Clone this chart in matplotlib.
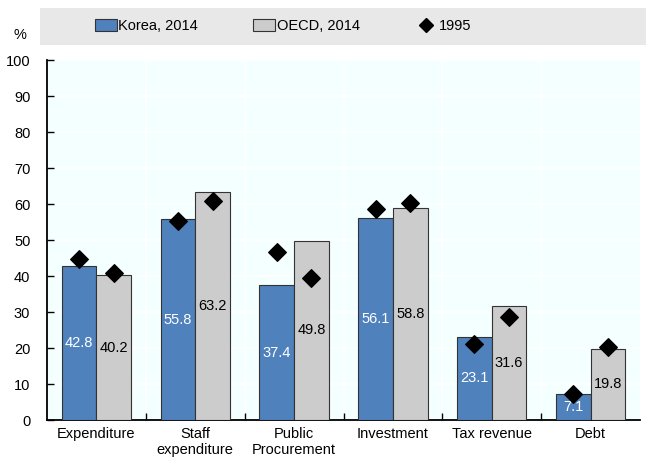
import matplotlib
matplotlib.use("Agg")
import matplotlib.pyplot as plt
import numpy as np
from matplotlib.patches import Rectangle
from matplotlib.lines import Line2D
from matplotlib.font_manager import fontManager

names = {f.name for f in fontManager.ttflist}
fam = ['Liberation Sans Narrow', 'Liberation Sans', 'DejaVu Sans']
plt.rcParams['font.family'] = [f for f in fam if f in names] or ['DejaVu Sans']

categories = ["Expenditure", "Staff\nexpenditure", "Public\nProcurement", "Investment", "Tax revenue", "Debt"]
korea_2014 = [42.8, 55.8, 37.4, 56.1, 23.1, 7.1]
oecd_2014 = [40.2, 63.2, 49.8, 58.8, 31.6, 19.8]
korea_1995 = [44.6, 55.2, 46.8, 58.6, 21.2, 7.2]
oecd_1995 = [40.8, 60.9, 39.4, 60.2, 28.6, 20.2]
yticks = list(range(0, 101, 10))

fig = plt.figure(figsize=(6.46, 4.66), dpi=100)
ax = fig.add_axes([47/646, 1-420/466, 593/646, 360/466])
ax.set_facecolor('#F4FFFF')

x = np.arange(len(categories))
w = 0.35
ax.bar(x - w/2, korea_2014, w, color='#4F81BD', edgecolor='#333333', linewidth=0.8, zorder=3)
ax.bar(x + w/2, oecd_2014, w, color='#CCCCCC', edgecolor='#333333', linewidth=0.8, zorder=3)
ax.scatter(x - w/2, korea_1995, marker='D', s=80, color='black', zorder=5)
ax.scatter(x + w/2, oecd_1995, marker='D', s=80, color='black', zorder=5)

for xi, v in zip(x - w/2, korea_2014):
    ax.text(xi, v/2, f"{v:.1f}", ha='center', va='center', color='white', fontsize=10.5, zorder=4)
for xi, v in zip(x + w/2, oecd_2014):
    ax.text(xi, v/2, f"{v:.1f}", ha='center', va='center', color='black', fontsize=10.5, zorder=4)

ax.set_xlim(-0.5, len(categories) - 0.5)
ax.set_ylim(0, 100)
ax.set_yticks(yticks)
ax.set_yticklabels([str(t) for t in yticks], fontsize=10.5)
ax.set_xticks(x)
ax.set_xticklabels(categories, fontsize=10.5)
ax.tick_params(axis='x', length=0, pad=5)
ax.set_xticks(np.arange(0.5, len(categories) - 0.5, 1), minor=True)
ax.tick_params(axis='x', which='minor', length=5, direction='in', width=1)
ax.tick_params(axis='y', length=5, direction='in', width=1, pad=12)
ax.grid(axis='y', color='white', linewidth=1.2, zorder=0)
ax.grid(axis='x', which='minor', color='white', linewidth=1.2, zorder=0)
for s in ['top', 'right']:
    ax.spines[s].set_visible(False)
ax.spines['left'].set_linewidth(1.3)
ax.spines['bottom'].set_linewidth(1.3)

fig.patches.append(Rectangle((40/646, 1-45/466), 606/646, 37/466, transform=fig.transFigure,
                             facecolor='#E8E8E8', edgecolor='none', zorder=0))
fig.text(20/646, 1-35/466, "%", fontsize=10.5, ha='center', va='center')

handles = [Rectangle((0, 0), 1, 1, facecolor='#4F81BD', edgecolor='#333333', linewidth=0.8),
           Rectangle((0, 0), 1, 1, facecolor='#CCCCCC', edgecolor='#333333', linewidth=0.8),
           Line2D([], [], marker='D', color='black', linestyle='none', markersize=7)]
fig.legend(handles, ["Korea, 2014", "OECD, 2014", "1995"], loc='center',
           bbox_to_anchor=(283/646, 1-26/466), ncol=3, frameon=False, fontsize=10.5,
           handlelength=1.5, handletextpad=0.1, columnspacing=3.8, handleheight=0.9)

fig.savefig("out.png", dpi=100)
